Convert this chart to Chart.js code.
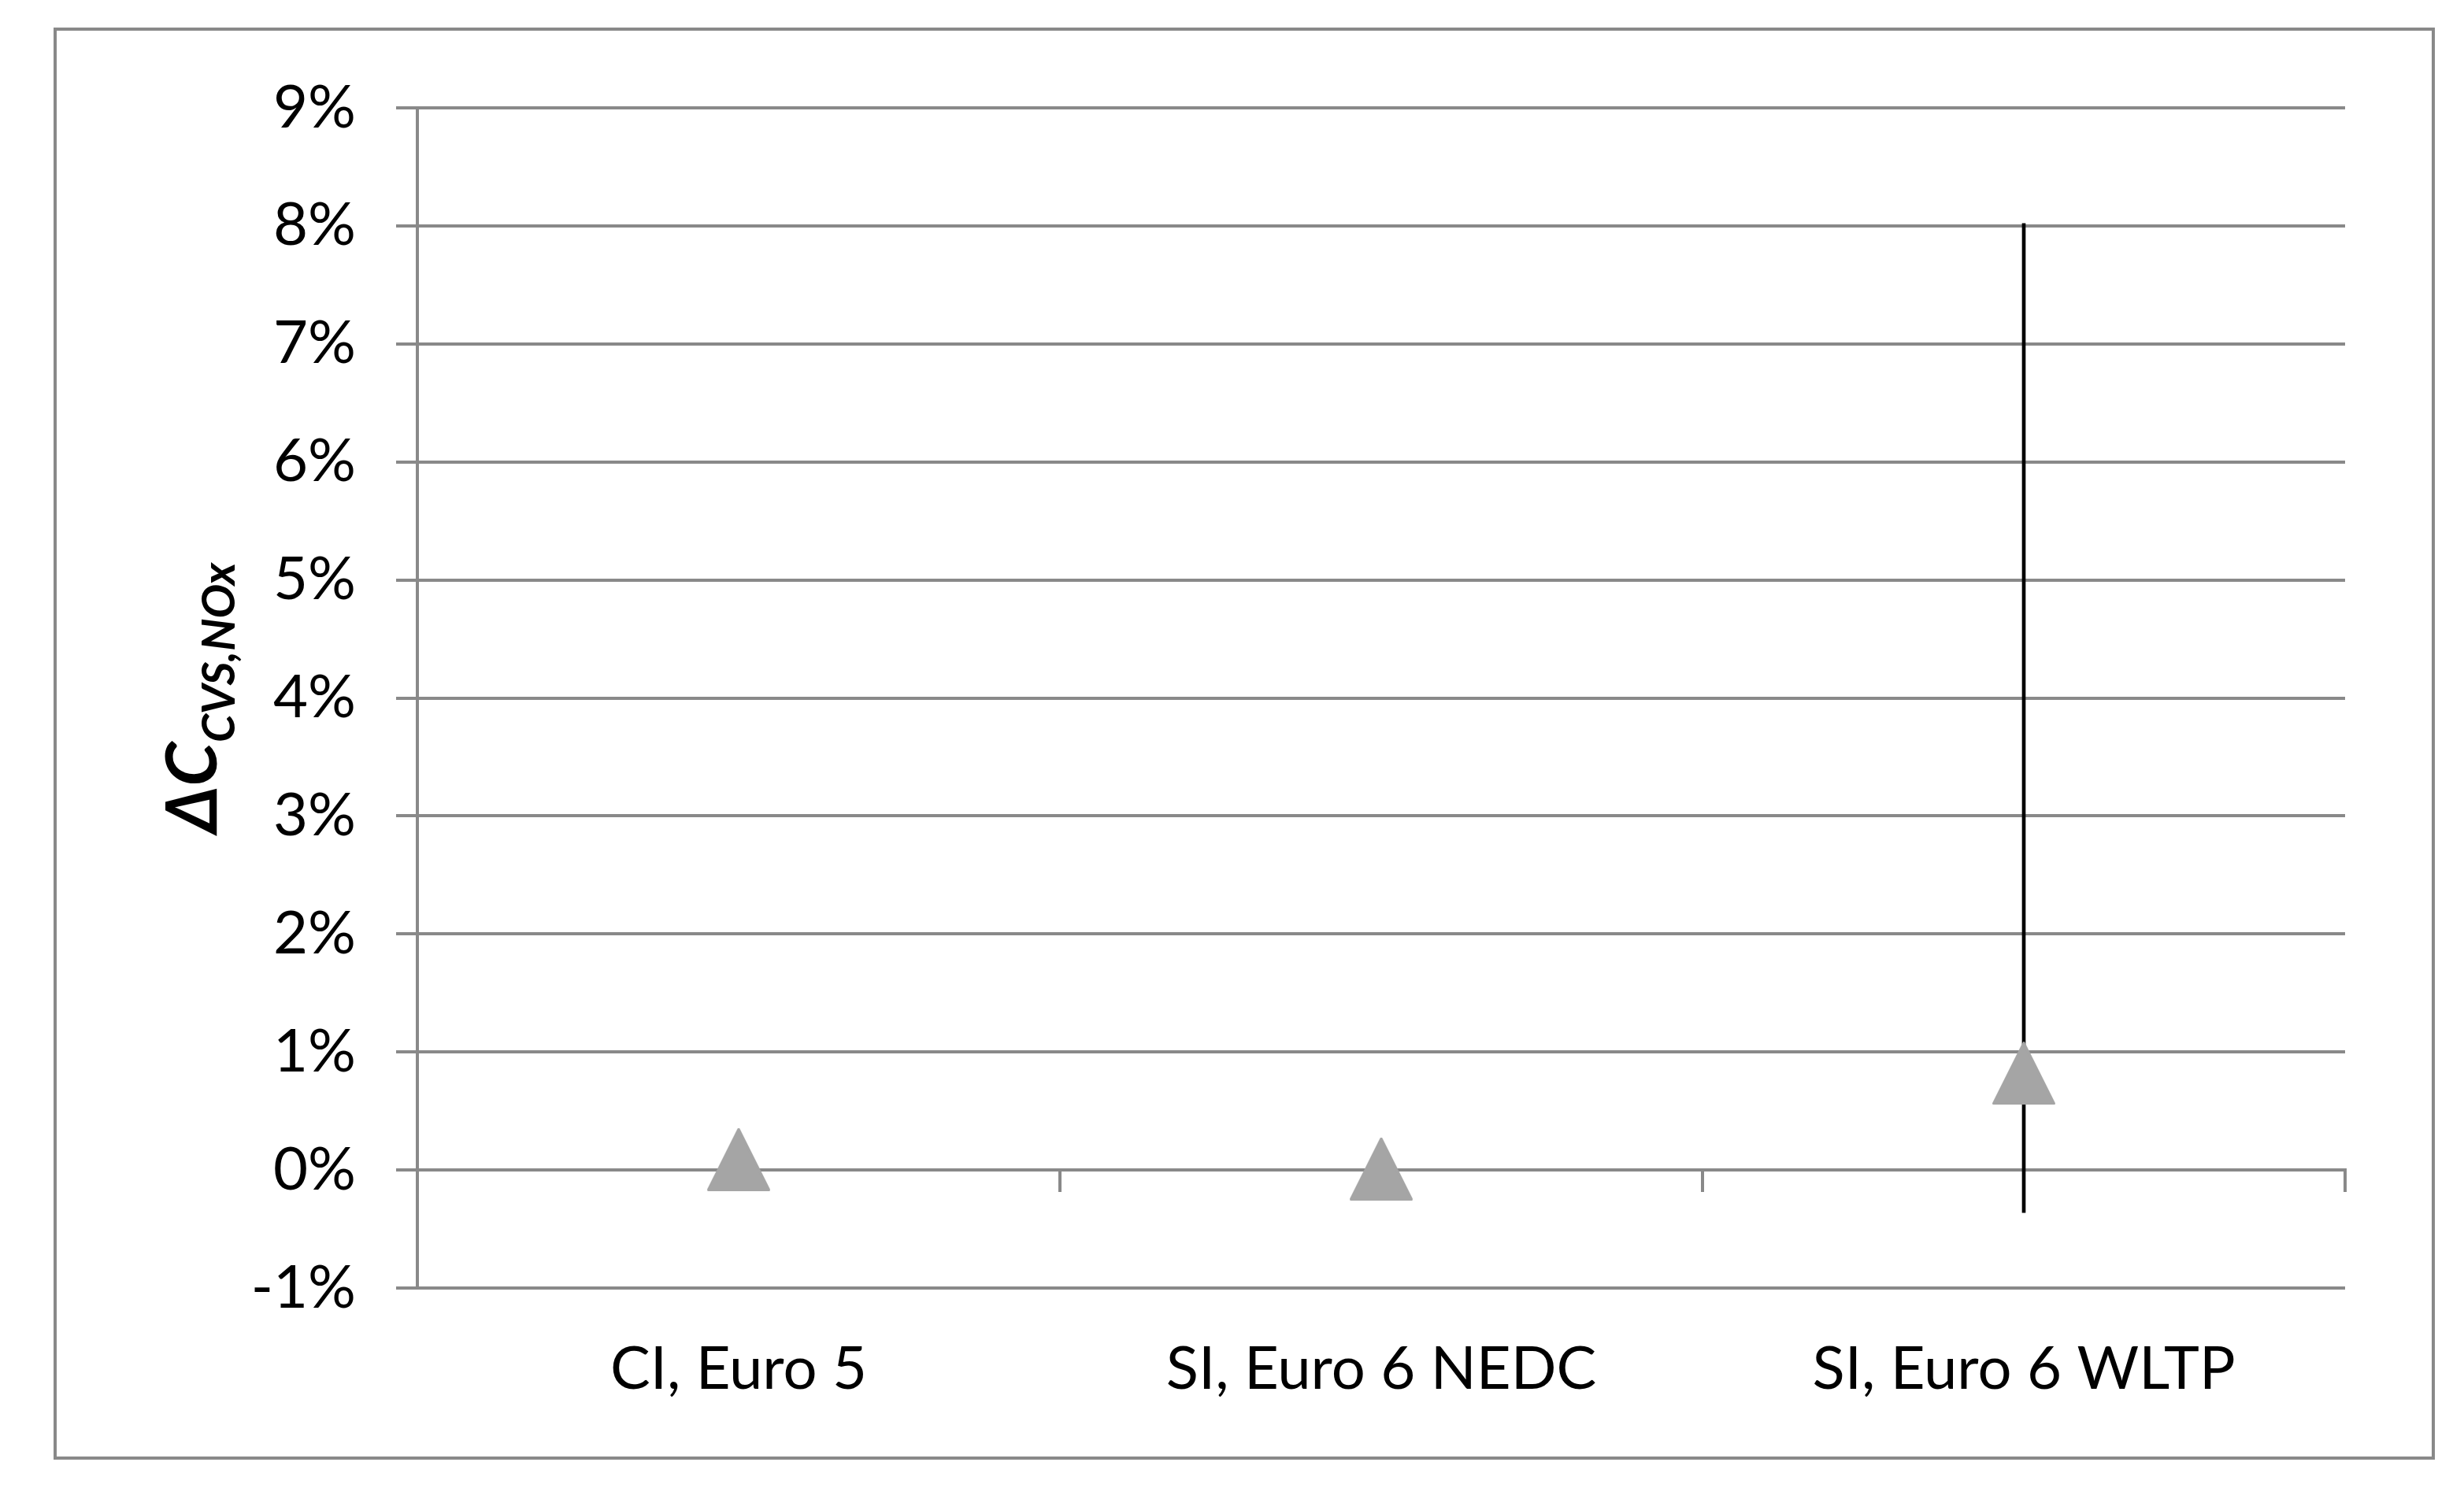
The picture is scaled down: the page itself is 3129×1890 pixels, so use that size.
<!DOCTYPE html>
<html>
<head>
<meta charset="utf-8">
<script src="https://cdn.jsdelivr.net/npm/chart.js@4.4.0/dist/chart.umd.min.js"></script>
<style>
  body { margin: 0; background: #fff; }
</style>
</head>
<body>
<canvas id="myChart" width="3129" height="1890"></canvas>
<script>
// values (fractions, axis shows percent)
var categories = ["CI, Euro 5", "SI, Euro 6 NEDC", "SI, Euro 6 WLTP"];
var deltaC = [0.0009, 0.0001, 0.0082];
var errLow = [null, null, -0.0036];
var errHigh = [null, null, 0.0802];
var yTicks = [-0.01, 0.09, 0.01]; // min, max, step

var gridGrey = "#898989";
var markerGrey = "#a5a5a5";

function makeTriangle() {
  var c = document.createElement("canvas");
  c.width = 80;
  c.height = 80;
  var g = c.getContext("2d");
  g.fillStyle = markerGrey;
  g.strokeStyle = markerGrey;
  g.lineJoin = "round";
  g.lineWidth = 3;
  g.beginPath();
  g.moveTo(40, 1.5);
  g.lineTo(1.5, 78.5);
  g.lineTo(78.5, 78.5);
  g.closePath();
  g.fill();
  g.stroke();
  return c;
}

var errorBars = categories.map(function (c, i) {
  return errLow[i] === null ? null : [errLow[i], errHigh[i]];
});

var frame = {
  id: "frame",
  afterDraw: function (chart) {
    var ctx = chart.ctx;
    ctx.save();
    ctx.strokeStyle = gridGrey;
    ctx.lineWidth = 4;
    ctx.strokeRect(70, 37, 3020, 1815);

    // y axis title with subscript
    var area = chart.chartArea;
    var main = "\u0394C";
    var sub = "CVS,NOx";
    ctx.fillStyle = "#000";
    ctx.textBaseline = "alphabetic";
    ctx.font = "italic bold 90px Lato, 'DejaVu Sans'";
    var wMain = ctx.measureText(main).width;
    ctx.font = "italic bold 58px Lato, 'DejaVu Sans'";
    var wSub = ctx.measureText(sub).width;
    ctx.translate(275, (area.top + area.bottom) / 2);
    ctx.rotate(-Math.PI / 2);
    var start = -(wMain + wSub) / 2;
    ctx.font = "italic bold 90px Lato, 'DejaVu Sans'";
    ctx.fillText(main, start, 0);
    ctx.font = "italic bold 58px Lato, 'DejaVu Sans'";
    ctx.fillText(sub, start + wMain, 23);
    ctx.restore();
  }
};

var ctx = document.getElementById("myChart").getContext("2d");
var chart = new Chart(ctx, {
  type: "line",
  data: {
    labels: categories,
    datasets: [
      {
        type: "line",
        label: "dC",
        data: deltaC,
        showLine: false,
        pointStyle: makeTriangle(),
        pointRadius: 40,
        order: 1
      },
      {
        type: "bar",
        label: "range",
        data: errorBars,
        backgroundColor: "#000",
        borderWidth: 0,
        barThickness: 4,
        order: 2
      }
    ]
  },
  options: {
    responsive: false,
    devicePixelRatio: 1,
    animation: false,
    layout: { padding: { top: 137, right: 151, left: 0, bottom: 0 } },
    plugins: {
      legend: { display: false },
      tooltip: { enabled: false }
    },
    scales: {
      x: {
        type: "category",
        position: { y: 0 },
        offset: true,
        grid: {
          offset: true,
          drawOnChartArea: false,
          drawTicks: true,
          tickLength: 26,
          color: gridGrey,
          lineWidth: 4
        },
        border: { display: true, color: gridGrey, width: 4 },
        ticks: { display: false }
      },
      xl: {
        type: "category",
        axis: "x",
        position: "bottom",
        labels: categories,
        offset: true,
        grid: { display: false, drawTicks: false },
        border: { display: false },
        ticks: {
          padding: 58,
          color: "#000",
          font: { family: "Lato", size: 76 }
        },
        afterFit: function (scale) {
          scale.height = 254;
        }
      },
      y: {
        min: yTicks[0],
        max: yTicks[1],
        grid: {
          color: gridGrey,
          lineWidth: 4,
          tickLength: 27
        },
        border: { display: true, color: gridGrey, width: 4 },
        ticks: {
          stepSize: yTicks[2],
          padding: 51,
          color: "#000",
          font: { family: "Lato", size: 76 },
          callback: function (v) {
            return Math.round(v * 100) + "%";
          }
        },
        afterFit: function (scale) {
          scale.width = 530;
        }
      }
    }
  },
  plugins: [frame]
});
</script>
</body>
</html>
